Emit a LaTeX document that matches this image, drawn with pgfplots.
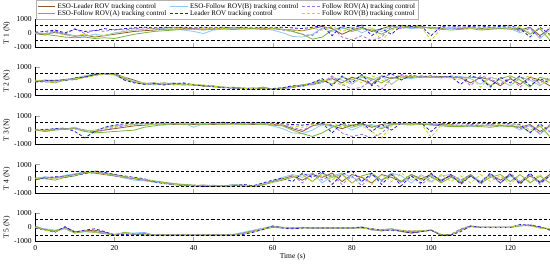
\documentclass[border=0pt]{standalone}
\usepackage{fontspec}
\setmainfont{Liberation Serif}
\usepackage{pgfplots}
\usepackage{pgfplotstable}
\pgfplotsset{compat=1.18}
\usepgfplotslibrary{groupplots}

\definecolor{cLeadEso}{RGB}{140,90,42}
\definecolor{cAEso}{RGB}{118,180,60}
\definecolor{cBEso}{RGB}{142,200,240}
\definecolor{cLead}{RGB}{34,34,200}
\definecolor{cA}{RGB}{160,112,232}
\definecolor{cB}{RGB}{210,204,60}

% columns: t, ESO-Leader, ESO-Follow A, ESO-Follow B, Leader, Follow A, Follow B
\pgfplotstableread{
t L A B Ld FA FB
0 -50 0 20 50 0 -20
2.5 -150 -100 -80 100 -50 -100
5 50 -200 100 200 150 0
7.5 -100 -300 -50 0 -100 -150
10 -250 -350 -200 250 300 -200
12.5 -150 -300 -250 100 -50 -100
15 -300 -400 -100 150 200 -250
17.5 -200 -350 -200 300 100 -150
20 -100 -400 0 200 250 -50
22.5 0 -250 100 300 200 100
25 100 -100 200 350 300 200
27.5 150 0 250 400 350 250
30 200 100 300 350 300 300
32.5 250 150 300 400 350 250
35 250 200 250 350 400 300
37.5 300 250 200 400 350 300
40 300 250 100 350 300 250
42.5 250 200 -50 400 350 300
45 300 250 200 350 300 300
47.5 300 300 250 400 350 300
50 250 250 300 350 400 350
52.5 300 300 250 400 350 300
55 300 300 300 350 300 350
57.5 300 250 250 400 350 300
60 300 300 200 350 300 300
62.5 250 250 0 400 200 250
65 200 100 -250 350 100 200
67.5 150 -100 -300 300 -100 150
70 300 -450 -100 400 -200 300
72.5 450 -300 350 500 300 200
75 300 200 100 -200 400 500
77.5 -100 400 300 500 -300 100
80 200 100 400 300 -500 300
82.5 400 300 0 550 -200 200
85 100 200 300 -200 -550 400
87.5 300 -100 100 300 -300 -550
90 500 300 450 -100 450 200
92.5 350 450 400 500 300 450
95 400 400 300 450 500 400
97.5 350 450 350 500 450 450
100 400 300 400 -200 350 -550
102.5 300 250 350 450 400 300
105 350 200 300 500 350 400
107.5 300 250 350 400 300 350
110 350 300 400 450 350 300
112.5 300 200 250 500 400 350
115 350 250 300 400 300 300
117.5 300 300 350 450 350 400
120 350 250 300 500 400 300
122.5 200 350 0 300 100 450
125 400 -100 350 -300 300 0
127.5 -200 300 -400 400 -300 350
130 300 -500 200 -100 400 -200
}\tOne

\pgfplotstableread{
t L A B Ld FA FB
0 0 50 0 -50 0 100
2.5 100 0 50 50 -50 0
5 50 -100 0 100 50 -50
7.5 150 100 100 50 150 100
10 200 150 250 250 100 200
12.5 350 300 400 300 350 250
15 500 450 550 500 450 400
17.5 550 550 550 550 500 550
20 550 500 450 550 550 500
22.5 300 200 150 100 250 300
25 100 -50 0 -100 50 0
27.5 -150 -200 -100 -200 -150 -100
30 -100 -150 -250 -150 -200 -200
32.5 -200 -100 -150 -250 -100 -150
35 -150 -200 -100 -150 -250 -200
37.5 -200 -250 -200 -100 -150 -250
40 -250 -200 -300 -250 -200 -200
42.5 -300 -350 -250 -300 -300 -250
45 -350 -300 -400 -350 -350 -350
47.5 -400 -450 -400 -450 -400 -400
50 -450 -400 -500 -450 -500 -450
52.5 -500 -500 -450 -500 -450 -500
55 -550 -450 -550 -500 -550 -500
57.5 -400 -500 -450 -550 -400 -450
60 -550 -550 -500 -500 -550 -550
62.5 -500 -450 -550 -450 -500 -500
65 -400 -350 -400 -300 -450 -400
67.5 -300 -250 -200 -350 -250 -300
70 -200 -100 -250 -100 -200 -150
72.5 0 100 -50 200 -100 50
75 200 -200 300 -300 400 100
77.5 -100 300 100 400 -200 -300
80 300 100 -200 -100 -550 200
82.5 100 400 300 500 -400 -100
85 -200 200 100 -300 100 400
87.5 400 -100 400 300 -550 100
90 200 300 -200 550 200 -200
92.5 400 150 300 100 500 300
95 300 350 200 450 300 400
97.5 350 300 350 300 400 300
100 300 300 300 400 350 350
102.5 350 300 250 300 300 300
105 300 300 300 350 400 250
107.5 250 300 350 -200 300 100
110 -100 300 200 400 -300 300
112.5 300 250 -200 200 400 -400
115 100 -300 300 -400 200 300
117.5 -300 200 100 300 -200 100
120 200 400 -300 -100 300 -300
122.5 -200 100 300 400 -400 200
125 300 -400 100 -300 200 400
127.5 100 300 -300 200 -100 -200
130 -300 100 200 -100 300 100
}\tTwo

\pgfplotstableread{
t L A B Ld FA FB
0 0 0 20 0 -20 0
2.5 -50 -100 0 50 0 -50
5 50 0 100 100 50 50
7.5 100 50 50 150 100 100
10 150 100 200 -100 150 50
12.5 0 -100 -50 -550 -50 0
15 -100 -200 0 -100 -150 -50
17.5 0 -150 150 200 0 100
20 100 -100 300 350 200 250
22.5 200 -50 350 450 300 350
25 300 0 400 500 400 400
27.5 350 200 450 450 500 450
30 400 300 400 500 450 400
32.5 450 400 350 550 500 450
35 400 450 450 500 450 500
37.5 450 400 500 550 500 450
40 400 450 200 500 450 500
42.5 450 400 450 550 500 450
45 400 450 500 500 450 500
47.5 450 400 450 550 500 450
50 400 450 400 500 450 400
52.5 450 400 450 550 500 450
55 400 450 500 500 450 500
57.5 450 400 450 550 500 450
60 400 350 300 500 450 400
62.5 350 300 100 450 350 350
65 100 0 -200 400 200 300
67.5 -100 -250 -250 350 0 200
70 300 -450 0 450 300 400
72.5 450 -200 400 500 450 300
75 300 200 250 -200 400 550
77.5 100 400 400 500 -200 200
80 350 200 0 300 -450 400
82.5 450 400 300 550 -300 300
85 200 300 400 -100 -550 -100
87.5 400 100 200 400 -200 -550
90 500 400 450 0 400 300
92.5 400 450 400 500 450 450
95 450 400 350 550 500 400
97.5 400 450 450 500 450 450
100 450 350 400 -100 400 -500
102.5 400 300 350 500 450 350
105 350 250 300 450 400 400
107.5 300 250 350 500 350 300
110 300 300 250 450 400 350
112.5 350 250 300 500 350 300
115 300 200 350 450 400 350
117.5 350 300 300 500 300 400
120 300 250 350 450 400 300
122.5 200 300 0 400 100 450
125 400 -150 300 -200 350 0
127.5 -100 300 -300 450 -250 300
130 300 -450 250 -100 400 -150
}\tThree

\pgfplotstableread{
t L A B Ld FA FB
0 0 50 0 -50 50 0
2.5 100 0 150 50 0 100
5 50 -100 50 150 100 0
7.5 200 100 250 100 200 150
10 300 200 350 250 300 250
12.5 450 400 500 350 450 400
15 400 500 450 550 400 500
17.5 300 350 400 450 350 300
20 200 300 250 300 200 250
22.5 100 150 50 200 100 150
25 0 50 -100 100 0 50
27.5 -100 -50 -150 0 -100 -50
30 -200 -150 -250 -200 -200 -150
32.5 -300 -250 -300 -350 -250 -300
35 -400 -350 -450 -400 -350 -400
37.5 -450 -400 -450 -500 -450 -450
40 -500 -450 -550 -450 -500 -500
42.5 -450 -500 -500 -550 -450 -450
45 -500 -550 -450 -500 -550 -500
47.5 -550 -500 -550 -550 -500 -550
50 -450 -450 -400 -500 -450 -450
52.5 -500 -500 -450 -400 -500 -450
55 -550 -550 -500 -500 -550 -550
57.5 -400 -450 -350 -300 -400 -400
60 -200 -250 -150 -100 -200 -250
62.5 0 -100 100 50 -50 0
65 200 100 300 -200 250 100
67.5 -100 300 100 400 -300 300
70 300 -200 400 100 400 -200
72.5 100 400 -300 500 -100 300
75 400 100 200 -400 300 -100
77.5 -200 300 400 300 -400 400
80 300 -300 100 550 200 -300
82.5 100 200 -200 -200 -500 200
85 -300 400 300 400 300 -400
87.5 300 -100 -100 -400 -200 300
90 100 300 400 300 400 -200
92.5 -200 -200 200 -500 -300 400
95 300 300 -300 200 200 -100
97.5 0 -100 300 -300 -400 200
100 300 200 -200 400 100 -300
102.5 -100 -300 200 -200 -200 300
105 200 100 300 300 300 -200
107.5 -300 -200 -100 -400 -100 200
110 200 300 300 200 300 -300
112.5 -200 -300 -200 -300 -400 300
115 300 100 300 400 200 -200
117.5 -100 300 -300 -300 -300 200
120 300 -200 200 300 400 -400
122.5 -300 300 -200 -400 -200 300
125 200 -300 300 400 300 -200
127.5 -200 200 -300 -300 -400 300
130 300 -300 200 200 200 -300
}\tFour

\pgfplotstableread{
t L A B Ld FA FB
0 0 100 0 -50 50 0
2.5 -150 -200 -100 -200 -150 -200
5 -300 -250 -200 -350 -250 -300
7.5 0 -100 -50 50 0 -100
10 -300 -400 -350 -350 -300 -400
12.5 -250 -300 -300 -200 -250 -250
15 -200 -350 -300 -100 -300 -350
17.5 -350 -450 -400 -300 -400 -450
20 -500 -550 -500 -550 -550 -500
22.5 -400 -350 -450 -500 -350 -400
25 -500 -450 -400 -550 -500 -450
27.5 -450 -550 -350 -500 -400 -500
30 -550 -550 -550 -550 -550 -550
32.5 -550 -550 -550 -550 -550 -550
35 -550 -550 -550 -550 -550 -550
37.5 -550 -550 -550 -550 -550 -550
40 -550 -550 -550 -550 -550 -550
42.5 -550 -550 -550 -550 -550 -550
45 -550 -550 -550 -550 -550 -550
47.5 -550 -550 -550 -550 -550 -550
50 -520 -550 -500 -550 -520 -550
52.5 -400 -450 -350 -500 -400 -450
55 -250 -300 -200 -350 -250 -300
57.5 -100 -150 -50 -150 -100 -100
60 50 0 100 100 50 50
62.5 0 -50 0 -50 0 0
65 -50 0 -50 -100 -50 0
67.5 0 -50 0 -50 0 -50
70 -50 -50 -50 -50 -50 -50
72.5 -50 -50 -50 -50 -50 -50
75 -50 -50 -50 -50 -50 -50
77.5 -50 -50 -50 -50 -50 -50
80 -50 -50 -50 -50 -50 -50
82.5 0 -50 50 0 0 -50
85 -150 -100 -200 -100 -150 -100
87.5 -250 -200 -150 -200 -250 -200
90 -150 -100 -100 -200 -150 -150
92.5 -300 -250 -250 -250 -200 -250
95 -400 -300 -300 -400 -250 -250
97.5 -300 -250 -250 -300 -250 -250
100 -200 -200 -200 -200 -200 -150
102.5 -550 -500 -500 -550 -550 -500
105 -550 -550 -500 -550 -500 -550
107.5 -150 -200 -200 -300 -100 -200
110 100 50 50 100 100 50
112.5 0 0 0 0 0 0
115 0 0 0 0 0 0
117.5 0 0 0 0 0 0
120 0 0 0 0 0 0
122.5 150 100 150 200 100 150
125 150 150 100 150 200 100
127.5 0 -50 0 50 0 -50
130 -150 -100 -100 -200 -100 -100
}\tFive

\pgfplotsset{
  panel/.style={
    xmin=0, xmax=130, ymin=-1000, ymax=1000,
    xtick={0,20,40,60,80,100,120},
    ytick={-1000,0,1000},
    axis x line*=bottom, axis y line*=left,
    tick align=inside,
    every axis line/.style={gray!70},
    every tick/.style={gray!70},
    tick label style={font=\fontsize{7.5}{8}\selectfont},
    label style={font=\fontsize{7.5}{8}\selectfont},
    /pgf/number format/assume math mode=true,
    /pgf/number format/1000 sep={},
    ylabel style={yshift=-3pt},
  },
  lLE/.style={color=cLeadEso, line width=0.8pt},
  lAE/.style={color=cAEso, line width=0.8pt},
  lBE/.style={color=cBEso, line width=0.8pt},
  lL/.style={color=cLead, line width=0.8pt, dash pattern=on 3pt off 2pt},
  lA/.style={color=cA, line width=0.8pt, dash pattern=on 3pt off 2pt},
  lB/.style={color=cB, line width=0.8pt, dash pattern=on 3pt off 2pt},
  lim/.style={black, line width=0.8pt, dash pattern=on 3pt off 2pt, forget plot},
}

\begin{document}
\begin{tikzpicture}
\begin{groupplot}[
  group style={group size=1 by 5, vertical sep=20.3pt, xticklabels at=edge bottom},
  width=511pt, height=28pt, scale only axis, panel,
]
\nextgroupplot[ylabel={T 1 (N)},
  legend columns=3,
  legend cell align=left,
  legend style={at={(0.002,1)}, anchor=south west, yshift=-1pt, draw=gray!60,
    font=\fontsize{7}{7.5}\selectfont, inner sep=1pt, row sep=-3.5pt,
    /tikz/every even column/.append style={column sep=1.5pt}},
  legend image post style={line width=1pt},
]
\addplot[lLE] table[x=t, y=L] {\tOne};
\addlegendentry{ESO-Leader ROV tracking control}
\addplot[lBE] table[x=t, y=B] {\tOne};
\addlegendentry{ESO-Follow ROV(B) tracking control}
\addplot[lA] table[x=t, y=FA] {\tOne};
\addlegendentry{Follow ROV(A) tracking control}
\addplot[lAE] table[x=t, y=A] {\tOne};
\addlegendentry{ESO-Follow ROV(A) tracking control}
\addplot[lL] table[x=t, y=Ld] {\tOne};
\addlegendentry{Leader ROV tracking control}
\addplot[lB] table[x=t, y=FB] {\tOne};
\addlegendentry{Follow ROV(B) tracking control}
\addplot[lim] coordinates {(0,550)(130,550)};
\addplot[lim] coordinates {(0,-550)(130,-550)};

\nextgroupplot[ylabel={T 2 (N)}]
\addplot[lLE] table[x=t, y=L] {\tTwo};
\addplot[lBE] table[x=t, y=B] {\tTwo};
\addplot[lA] table[x=t, y=FA] {\tTwo};
\addplot[lAE] table[x=t, y=A] {\tTwo};
\addplot[lL] table[x=t, y=Ld] {\tTwo};
\addplot[lB] table[x=t, y=FB] {\tTwo};
\addplot[lim] coordinates {(0,550)(130,550)};
\addplot[lim] coordinates {(0,-550)(130,-550)};

\nextgroupplot[ylabel={T 3 (N)}]
\addplot[lLE] table[x=t, y=L] {\tThree};
\addplot[lBE] table[x=t, y=B] {\tThree};
\addplot[lA] table[x=t, y=FA] {\tThree};
\addplot[lAE] table[x=t, y=A] {\tThree};
\addplot[lL] table[x=t, y=Ld] {\tThree};
\addplot[lB] table[x=t, y=FB] {\tThree};
\addplot[lim] coordinates {(0,550)(130,550)};
\addplot[lim] coordinates {(0,-550)(130,-550)};

\nextgroupplot[ylabel={T 4 (N)}]
\addplot[lLE] table[x=t, y=L] {\tFour};
\addplot[lBE] table[x=t, y=B] {\tFour};
\addplot[lA] table[x=t, y=FA] {\tFour};
\addplot[lAE] table[x=t, y=A] {\tFour};
\addplot[lL] table[x=t, y=Ld] {\tFour};
\addplot[lB] table[x=t, y=FB] {\tFour};
\addplot[lim] coordinates {(0,550)(130,550)};
\addplot[lim] coordinates {(0,-550)(130,-550)};

\nextgroupplot[ylabel={T 5 (N)}, xlabel={Time (s)}, xlabel style={yshift=4pt}]
\addplot[lLE] table[x=t, y=L] {\tFive};
\addplot[lBE] table[x=t, y=B] {\tFive};
\addplot[lA] table[x=t, y=FA] {\tFive};
\addplot[lAE] table[x=t, y=A] {\tFive};
\addplot[lL] table[x=t, y=Ld] {\tFive};
\addplot[lB] table[x=t, y=FB] {\tFive};
\addplot[lim] coordinates {(0,550)(130,550)};
\addplot[lim] coordinates {(0,-550)(130,-550)};
\end{groupplot}
\end{tikzpicture}
\end{document}
